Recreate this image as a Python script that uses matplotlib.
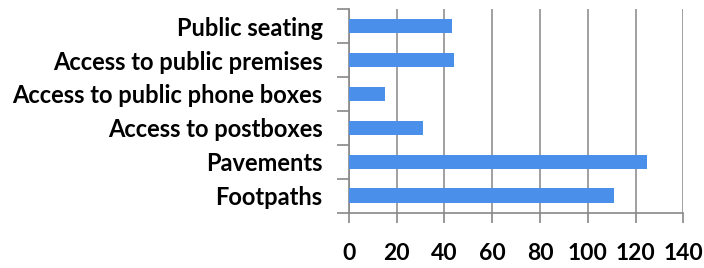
import matplotlib
matplotlib.use('Agg')

import numpy as np
import matplotlib.pyplot as plt

# data, top to bottom as shown
categories = ["Public seating", "Access to public premises", "Access to public phone boxes",
              "Access to postboxes", "Pavements", "Footpaths"]
counts = [43, 44, 15, 31, 125, 111]
x_ticks = [0, 20, 40, 60, 80, 100, 120, 140]

plt.rcParams['font.family'] = ['Lato', 'DejaVu Sans']

fig = plt.figure(figsize=(7.04, 2.68), dpi=100)
ax = fig.add_axes([0.4957, 0.2063, 0.4749, 0.7597])

pos = np.arange(len(categories))[::-1]
ax.barh(pos, counts, height=0.43, color="#4A90EA", zorder=3)

ax.set_xlim(0, 140)
ax.set_ylim(-0.5, len(categories) - 0.5)
ax.set_xticks(x_ticks)
ax.set_xticklabels([str(t) for t in x_ticks], fontsize=16.5, fontweight='bold')
ax.tick_params(axis='x', length=7, width=1.2, color="#888888", pad=15)

# boundaries as major ticks, labels on minor ticks
ax.set_yticks(np.arange(-0.5, len(categories), 1.0))
ax.set_yticklabels([])
ax.set_yticks(pos, minor=True)
ax.set_yticklabels(categories, minor=True, fontsize=17, fontweight='bold')
ax.tick_params(axis='y', which='major', length=9, width=1.2, color="#888888")
ax.tick_params(axis='y', which='minor', length=0, pad=19)

ax.grid(axis='x', color="#999999", linewidth=1.3, zorder=0)
for s in ['top', 'right']:
    ax.spines[s].set_visible(False)
for s in ['left', 'bottom']:
    ax.spines[s].set_color("#888888")
    ax.spines[s].set_linewidth(1.2)

fig.savefig("out.png", dpi=100)
plt.close()
